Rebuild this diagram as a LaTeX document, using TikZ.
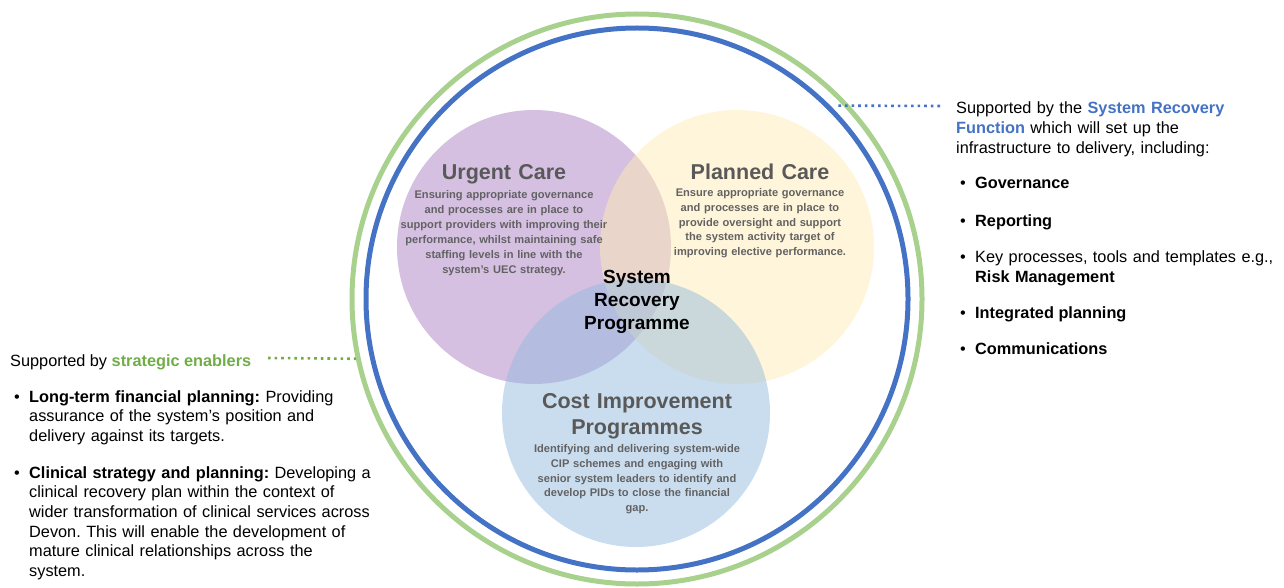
\documentclass[tikz,border=0pt]{standalone}
\usepackage{fontspec}
\setmainfont{Liberation Sans}
\usepackage{xcolor}
\usepackage{tikz}
\usetikzlibrary{positioning}
\frenchspacing
\definecolor{vert}{HTML}{A9D18E}
\definecolor{vertfonce}{HTML}{70AD47}
\definecolor{bleu}{HTML}{4472C4}
\definecolor{gris}{HTML}{595959}
\definecolor{grisclair}{HTML}{626262}
\definecolor{mauve}{RGB}{171,129,197}
\definecolor{jaune}{RGB}{255,235,181}
\definecolor{ciel}{RGB}{149,187,223}
\tikzset{
  anneau/.style = {draw, circle, line width=5pt, inner sep=0pt},
  venn/.style = {circle, inner sep=0pt, fill opacity=0.5},% cercles du diagramme, transparents
  titre/.style = {inner sep=0pt, text=gris, font=\fontsize{21.5}{26}\selectfont\bfseries, align=center, text width=260pt},
  desc/.style = {inner sep=0pt, text=grisclair, font=\fontsize{11.1}{14.8}\selectfont\bfseries, align=center, text width=240pt},
  corps/.style = {inner sep=0pt, font=\fontsize{16.3}{19.7}\selectfont, align=left},
  puce/.style = {corps},
  pointille/.style = {line width=2.6pt, dash pattern=on 2.6pt off 4pt}
}
\begin{document}
\begin{tikzpicture}[x=1pt,y=-1pt]
\useasboundingbox (0,0) rectangle (1284,588);
% anneaux exterieurs
\node [anneau, draw=vert, minimum size=570pt] (ext) at (637,299) {};
\node [anneau, draw=bleu, minimum size=542pt] (int) at (637,299) {};
% les trois cercles
\node [venn, fill=mauve, minimum size=274pt] (urg) at (534,247) {};
\node [venn, fill=jaune, minimum size=274pt] (plan) at (737,247) {};
\node [venn, fill=ciel, minimum size=268pt] (cip) at (636,413) {};
% textes des cercles
\node [titre, anchor=base] (urgT) at (504,179) {Urgent Care};
\node [desc, anchor=base] (urgD) at (504,199) {Ensuring appropriate governance\\
  and processes are in place to\\ support providers with improving their\\
  performance, whilst maintaining safe\\ staffing levels in line with the\\
  system’s UEC strategy.};
\node [titre, anchor=base] (planT) at (760,179) {Planned Care};
\node [desc, anchor=base] (planD) at (760,196.5) {Ensure appropriate governance\\
  and processes are in place to\\ provide oversight and support\\
  the system activity target of\\ improving elective performance.};
\node [titre, anchor=base] (cipT) at (637,408.5) {Cost Improvement\\ Programmes};
\node [desc, anchor=base] (cipD) at (637,452.5) {Identifying and delivering system-wide\\
  CIP schemes and engaging with\\ senior system leaders to identify and\\
  develop PIDs to close the financial\\ gap.};
\node [inner sep=0pt, align=center, text width=160pt, font=\fontsize{19}{23}\selectfont\bfseries, anchor=base] (srp) at (637,283) {System\\ Recovery\\ Programme};
% bloc de gauche
\node [corps, anchor=base west] (enab) at (10,366) {Supported by \textbf{\color{vertfonce}strategic enablers}};
\node [corps, text width=360pt, anchor=base west] (lt) at (29,402) {\textbf{Long-term financial planning:} Providing\\
  assurance of the system’s position and\\ delivery against its targets.};
\node [corps, text width=360pt, anchor=base west] (cs) at (29,478) {\textbf{Clinical strategy and planning:} Developing a\\
  clinical recovery plan within the context of\\ wider transformation of clinical services across\\
  Devon. This will enable the development of\\ mature clinical relationships across the\\ system.};
\node [puce, left=9pt of lt.base west, anchor=base east] {•};
\node [puce, left=9pt of cs.base west, anchor=base east] {•};
% bloc de droite
\node [corps, text width=320pt, anchor=base west] (srf) at (956,114) {Supported by the \textbf{\color{bleu}System Recovery}\\
  \textbf{\color{bleu}Function} which will set up the\\ infrastructure to delivery, including:};
\node [corps, anchor=base west] (gov) at (975,189) {\textbf{Governance}};
\node [corps, anchor=base west] (rep) at (975,226) {\textbf{Reporting}};
\node [corps, text width=320pt, anchor=base west] (key) at (975,262.5) {Key processes, tools and templates e.g.,\\ \textbf{Risk Management}};
\node [corps, anchor=base west] (integ) at (975,318) {\textbf{Integrated planning}};
\node [corps, anchor=base west] (comm) at (975,354) {\textbf{Communications}};
\node [puce, left=9pt of gov.base west, anchor=base east] {•};
\node [puce, left=9pt of rep.base west, anchor=base east] {•};
\node [puce, left=9pt of key.base west, anchor=base east] {•};
\node [puce, left=9pt of integ.base west, anchor=base east] {•};
\node [puce, left=9pt of comm.base west, anchor=base east] {•};
% liens en pointilles
\coordinate (g1) at (268,358);
\coordinate (d1) at (940,106);
\draw [pointille, vertfonce] (g1) -- (ext.192);
\draw [pointille, bleu, shorten >=6pt] (d1) -- (int.45);
\end{tikzpicture}
\end{document}
